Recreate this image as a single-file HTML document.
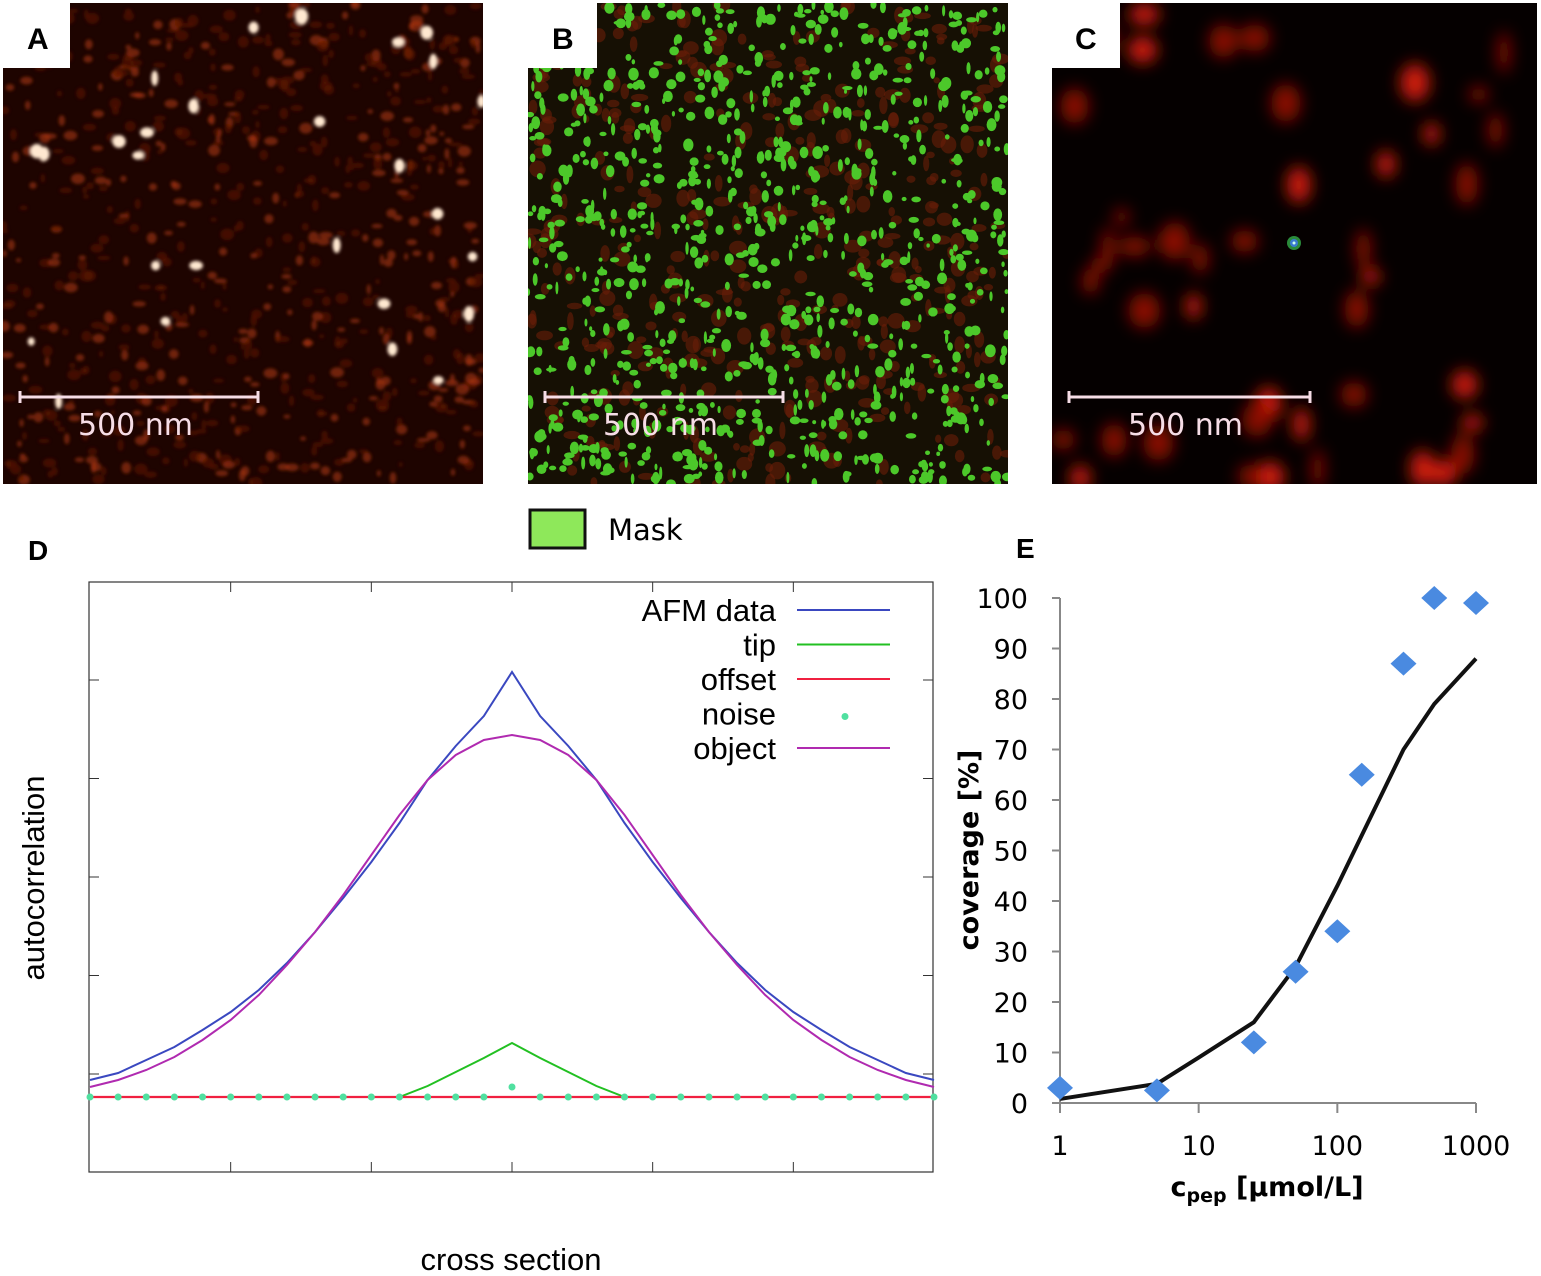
<!DOCTYPE html>
<html><head><meta charset="utf-8"><style>
html,body{margin:0;padding:0;background:#fff;}
svg{display:block;font-family:"Liberation Sans",sans-serif;}
</style></head><body>
<svg id="fig" width="1541" height="1276" viewBox="0 0 1541 1276" xmlns="http://www.w3.org/2000/svg">
<defs>
<filter id="blur3" x="-50%" y="-50%" width="200%" height="200%"><feGaussianBlur stdDeviation="1.5"/></filter>
<filter id="blur8" x="-50%" y="-50%" width="200%" height="200%"><feGaussianBlur stdDeviation="8"/></filter>
<clipPath id="cA"><rect x="3" y="3" width="480" height="481"/></clipPath>
<clipPath id="cB"><rect x="528" y="3" width="480" height="481"/></clipPath>
<clipPath id="cC"><rect x="1052" y="3" width="485" height="481"/></clipPath>
</defs>
<g clip-path="url(#cA)">
<rect x="3" y="3" width="480" height="481" fill="#1e0400"/><g id="blobsA" filter="url(#blur3)"></g>
</g>
<g clip-path="url(#cB)">
<rect x="528" y="3" width="480" height="481" fill="#161004"/><g id="blobsB"></g>
</g>
<g clip-path="url(#cC)">
<rect x="1052" y="3" width="485" height="481" fill="#050000"/><g id="blobsC" filter="url(#blur8)"></g>
<circle cx="1294" cy="243" r="7" fill="#2a8a3a"/><circle cx="1294" cy="243" r="4" fill="#3a7ad0"/><circle cx="1294" cy="243" r="1.5" fill="#cfe"/>
</g>
<g font-weight="bold" font-size="30">
<rect x="3" y="3" width="67" height="65" fill="#fff"/><text x="27" y="49">A</text>
<rect x="528" y="3" width="69" height="65" fill="#fff"/><text x="552" y="49">B</text>
<rect x="1052" y="3" width="68" height="65" fill="#fff"/><text x="1075" y="49">C</text>
<text x="28" y="560" font-size="28">D</text>
<text x="1016" y="558" font-size="28">E</text>
</g>
<g fill="#f6dde6" stroke="#f6dde6" font-family="DejaVu Sans, sans-serif" font-size="30">
<path d="M20 397H258M20 391V403M258 391V403" stroke-width="3" fill="none"/>
<text x="78" y="435" stroke="none">500 nm</text>
<path d="M545 397H783M545 391V403M783 391V403" stroke-width="3" fill="none"/>
<text x="603" y="435" stroke="none">500 nm</text>
<path d="M1069 397H1310M1069 391V403M1310 391V403" stroke-width="3" fill="none"/>
<text x="1128" y="435" stroke="none">500 nm</text>
</g>
<g>
<rect x="530" y="510" width="55" height="38" fill="#8ee85a" stroke="#111" stroke-width="3"/>
<text x="608" y="540" font-family="DejaVu Sans, sans-serif" font-size="29">Mask</text>
</g>
<g id="chartD"></g>
<g id="chartE"></g>
</svg>
<script>
// ----- Panel D data (x index, autocorrelation in relative units above offset) -----
const dIndex = [-15,-14,-13,-12,-11,-10,-9,-8,-7,-6,-5,-4,-3,-2,-1,0,1,2,3,4,5,6,7,8,9,10,11,12,13,14,15];
const afmHalf = [17,24,37,50,67,85,107,134,165,199,235,274,317,351,381,425];
const objHalf = [10,17,27,40,57,77,102,132,165,202,242,282,317,342,357,362];
const tipHalf = [0,0,0,0,0,0,0,0,0,0,0,0,11,25,39,54];
const noiseCenter = 10;
const legendLabels = ["AFM data","tip","offset","noise","object"];
// ----- Panel E data -----
const eConc = [1,5,25,50,100,150,300,500,1000];
const eCoverage = [3,2.5,12,26,34,65,87,100,99];
const fitConc = [1,5,10,25,50,100,150,300,500,1000];
const fitCoverage = [0.8,3.8,9,16,27,43,53,70,79,88];
const eYTicks = [0,10,20,30,40,50,60,70,80,90,100];
const eXTicks = [1,10,100,1000];

const NS="http://www.w3.org/2000/svg";
function mk(tag, attrs, parent){const e=document.createElementNS(NS,tag);for(const k in attrs)e.setAttribute(k,attrs[k]);parent.appendChild(e);return e;}
function full(h){return h.concat(h.slice(0,-1).reverse());}

// ---- decorative AFM textures (seeded) ----
let seed=12345;function rnd(){seed=(seed*1103515245+12345)%2147483648;return seed/2147483648;}
const bA=document.getElementById('blobsA');
for(let i=0;i<700;i++){const e=mk('ellipse',{cx:3+rnd()*480,cy:3+rnd()*481,rx:2+rnd()*5,ry:2+rnd()*4,fill:rnd()<0.4?'#a8360e':'#5e1604',opacity:0.6},bA);}
for(let i=0;i<28;i++){const e=mk('ellipse',{cx:3+rnd()*480,cy:3+rnd()*481,rx:3+rnd()*4,ry:4+rnd()*4,fill:'#ffe8d0'},bA);}
const bB=document.getElementById('blobsB');
for(let i=0;i<450;i++){const e=mk('ellipse',{cx:528+rnd()*480,cy:3+rnd()*481,rx:3+rnd()*6,ry:3+rnd()*6,fill:'#6a1e08',opacity:0.6},bB);}
for(let i=0;i<950;i++){const e=mk('ellipse',{cx:528+rnd()*480,cy:3+rnd()*481,rx:1.5+rnd()*4,ry:2+rnd()*4.5,fill:'#4cc82a'},bB);}
const bC=document.getElementById('blobsC');
for(let i=0;i<45;i++){const e=mk('ellipse',{cx:1052+rnd()*485,cy:3+rnd()*481,rx:6+rnd()*10,ry:8+rnd()*14,fill:rnd()<0.5?'#d21a10':'#8a0c06'},bC);}

// ---- Chart D ----
(function(){
const g=document.getElementById('chartD');
const L=89,R=933,T=582,B=1172,Y0=1097;
const xs=i=>512+i*(R-L)/30;
const ys=v=>Y0-v;
mk('rect',{x:L,y:T,width:R-L,height:B-T,fill:'none',stroke:'#333','stroke-width':1.2},g);
[-10,-5,0,5,10].forEach(i=>{const x=xs(i);const t=mk('path',{d:`M${x} ${T}v10M${x} ${B}v-10`,stroke:'#333'},g);});
[23,121.5,220,318.5,417].forEach(v=>{const y=ys(v);const t=mk('path',{d:`M${L} ${y}h10M${R} ${y}h-10`,stroke:'#333'},g);});
function line(vals,color,name){const p=mk('polyline',{points:vals.map((v,k)=>xs(dIndex[k])+','+ys(v)).join(' '),fill:'none',stroke:color,'stroke-width':2},g);}
line(full(afmHalf),'#3a48c0','afm-data-line');
line(full(objHalf),'#b02ab0','object-line');
line(full(tipHalf),'#22c022','tip-line');
const off=mk('line',{x1:L,x2:R,y1:ys(0),y2:ys(0),stroke:'#f02040','stroke-width':2.2},g);
dIndex.forEach(i=>{const c=mk('circle',{cx:xs(i),cy:ys(i===0?noiseCenter:0),r:3.5,fill:'#50e0a0'},g);});
const colors=['#3a48c0','#22c022','#f02040',null,'#b02ab0'];
legendLabels.forEach((lab,k)=>{const y=610+k*34.5;
 const t=mk('text',{x:776,y:y+11,'text-anchor':'end','font-size':31},g);t.textContent=lab;
 if(colors[k]){const l=mk('line',{x1:797,x2:890,y1:y,y2:y,stroke:colors[k],'stroke-width':2},g);}
 else{const c=mk('circle',{cx:845,cy:y+3,r:3.5,fill:'#50e0a0'},g);}
});
const xt=mk('text',{x:511,y:1270,'text-anchor':'middle','font-size':31},g);xt.textContent='cross section';
const yt=mk('text',{x:0,y:0,transform:'translate(44 878) rotate(-90)','text-anchor':'middle','font-size':31},g);yt.textContent='autocorrelation';
})();

// ---- Chart E ----
(function(){
const g=document.getElementById('chartE');
const X1=1060,X2=1476,Y0=1103,Y100=598;
const xs=c=>X1+Math.log10(c)/3*(X2-X1);
const ys=v=>Y0+(Y100-Y0)*v/100;
const ax=mk('path',{d:`M${X1} ${Y100}V${Y0}H${X2}`,stroke:'#888','stroke-width':2,fill:'none'},g);
eYTicks.forEach(v=>{const y=ys(v);mk('line',{x1:X1-8,x2:X1,y1:y,y2:y,stroke:'#888','stroke-width':2},g);
 const t=mk('text',{x:1028,y:y+10,'text-anchor':'end','font-size':27,'font-family':'DejaVu Sans, sans-serif'},g);t.textContent=v;});
eXTicks.forEach(c=>{const x=xs(c);mk('line',{x1:x,x2:x,y1:Y0,y2:Y0+10,stroke:'#888','stroke-width':2},g);
 const t=mk('text',{x:x,y:1155,'text-anchor':'middle','font-size':27,'font-family':'DejaVu Sans, sans-serif'},g);t.textContent=c;});
const fl=mk('polyline',{points:fitConc.map((c,k)=>xs(c)+','+ys(fitCoverage[k])).join(' '),fill:'none',stroke:'#111','stroke-width':4},g);
eConc.forEach((c,k)=>{const x=xs(c),y=ys(eCoverage[k]);const p=mk('path',{d:`M${x} ${y-12}L${x+13} ${y}L${x} ${y+12}L${x-13} ${y}Z`,fill:'#4a8ae0'},g);});
const xt=mk('text',{x:1267,y:1196,'text-anchor':'middle','font-size':27,'font-weight':'bold','font-family':'DejaVu Sans, sans-serif'},g);
xt.innerHTML='c<tspan font-size="19" dy="6">pep</tspan><tspan dy="-6"> [µmol/L]</tspan>';
const yt=mk('text',{x:0,y:0,transform:'translate(978 850) rotate(-90)','text-anchor':'middle','font-size':27,'font-weight':'bold','font-family':'DejaVu Sans, sans-serif'},g);yt.textContent='coverage [%]';
})();
</script>
</body></html>
